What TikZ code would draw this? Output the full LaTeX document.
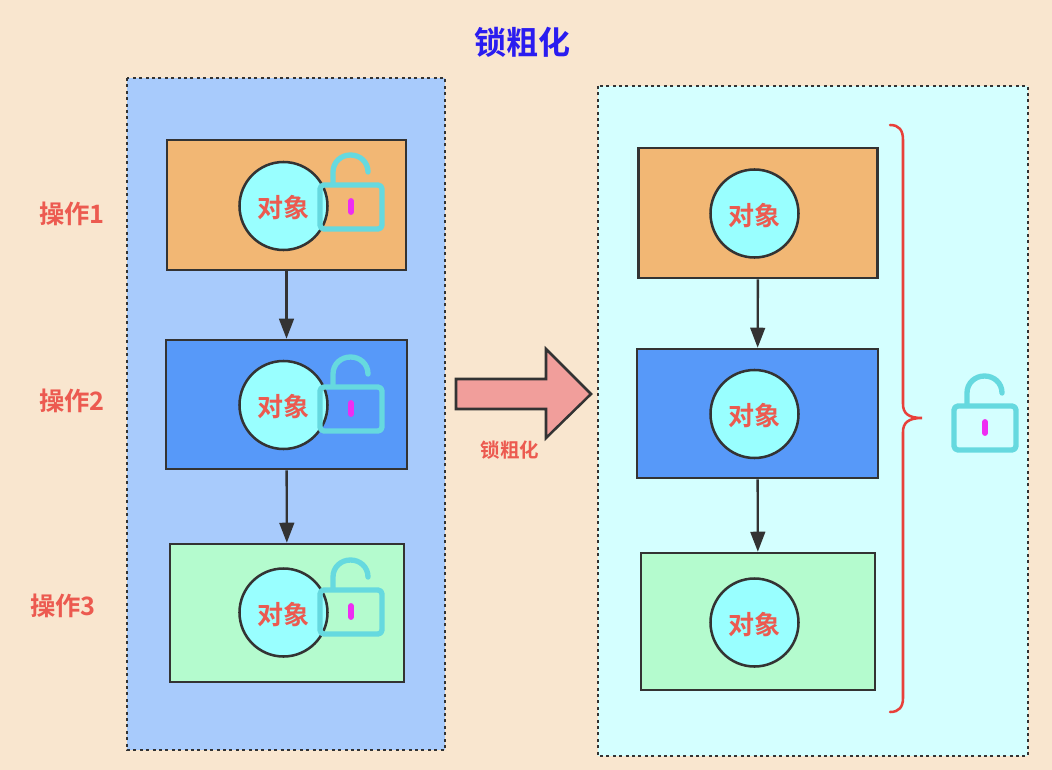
\documentclass[tikz,border=0pt]{standalone}
\usepackage{fontspec}
\setmainfont{Noto Sans CJK SC}[BoldFont={Noto Sans CJK SC Bold}]
\usetikzlibrary{arrows.meta}
\definecolor{bgc}{HTML}{F9E6CF}
\definecolor{panelL}{HTML}{A8CBFC}
\definecolor{panelR}{HTML}{D4FFFF}
\definecolor{boxA}{HTML}{F2B774}
\definecolor{boxB}{HTML}{5799F9}
\definecolor{boxC}{HTML}{B4FBCE}
\definecolor{circ}{HTML}{99FFFF}
\definecolor{ink}{HTML}{333333}
\definecolor{redtxt}{HTML}{EC5A50}
\definecolor{lockc}{HTML}{66D9DF}
\definecolor{pink}{HTML}{EE2DF2}
\definecolor{bluet}{HTML}{2A1CF0}
\definecolor{bracec}{HTML}{E8403A}
\definecolor{bigarrow}{HTML}{F19E9B}
\tikzset{
  x=0.75pt,y=-0.75pt,
  panel/.style={draw=ink,line width=2.2pt,dash pattern=on 2.2pt off 2.6pt},
  opbox/.style={draw=ink,line width=1.9pt,inner sep=0pt},
  obj/.style={circle,draw=ink,line width=1.9pt,fill=circ,minimum size=66pt,inner sep=0pt,
    text height=20pt,text depth=2.2pt,
    text=redtxt,font=\bfseries\fontsize{19.5pt}{22pt}\selectfont},
  oplabel/.style={text=redtxt,font=\bfseries\fontsize{19pt}{22pt}\selectfont,inner sep=0pt},
  link/.style={draw=ink,line width=1.8pt,-{Triangle[length=15pt,width=11pt]}},
  lockline/.style={draw=lockc,line width=4pt,line cap=round,line join=round},
  lock/.pic={
    \draw[lockline,rounded corners=3pt] (320,185) rectangle (382,229);
    \draw[lockline] (333,183) -- (333,172) .. controls (333,162) and (341,155) .. (350.5,155)
      .. controls (360,155) and (368,162) .. (368,172);
    \draw[draw=pink,line width=4.4pt,line cap=round] (351,201) -- (351,212);
  }
}
\begin{document}
\begin{tikzpicture}
\useasboundingbox (0,0) rectangle (1052,770);
\fill[bgc] (0,0) rectangle (1052,770);
\path[panel,fill=panelL] (127,78) rectangle (445,750);
\path[panel,fill=panelR] (598,86) rectangle (1028,756);

\node[font=\bfseries\fontsize{24pt}{26pt}\selectfont,text=bluet,inner sep=0pt] (title) at (522.5,42) {锁粗化};

% left column
\node[opbox,fill=boxA,minimum width=239*0.75pt,minimum height=130*0.75pt] (la) at (286.5,205) {};
\node[opbox,fill=boxB,minimum width=241*0.75pt,minimum height=129*0.75pt] (lb) at (286.5,404.5) {};
\node[opbox,fill=boxC,minimum width=234*0.75pt,minimum height=138*0.75pt] (lc) at (287,613) {};
\draw[link] (la) -- (lb);
\draw[link] (lb) -- (lc);
\node[obj] (lao) at (283.5,206) {对象};
\node[obj] (lbo) at (283.5,405) {对象};
\node[obj] (lco) at (283.5,612.5) {对象};
\pic at (0,0) {lock};
\pic at (0,202) {lock};
\pic at (0,405) {lock};
\node[oplabel] (op1) at (72,214) {操作1};
\node[oplabel] (op2) at (72,401) {操作2};
\node[oplabel] (op3) at (63,606) {操作3};

% right column
\node[opbox,fill=boxA,minimum width=239*0.75pt,minimum height=130*0.75pt] (ra) at (758,213) {};
\node[opbox,fill=boxB,minimum width=241*0.75pt,minimum height=129*0.75pt] (rb) at (757.5,413.5) {};
\node[opbox,fill=boxC,minimum width=234*0.75pt,minimum height=137*0.75pt] (rc) at (758,621.5) {};
\draw[link] (ra) -- (rb);
\draw[link] (rb) -- (rc);
\node[obj] (rao) at (754.5,213.5) {对象};
\node[obj] (rbo) at (754.5,414) {对象};
\node[obj] (rco) at (754.5,622.5) {对象};

% big arrow
\draw[draw=ink,line width=1.9pt,fill=bigarrow,line join=miter]
  (456,379) -- (546,379) -- (546,349) -- (591,394) -- (546,438) -- (546,409) -- (456,409) -- cycle;
\node[text=redtxt,font=\bfseries\fontsize{14.6pt}{16pt}\selectfont,inner sep=0pt] (mid) at (510,450) {锁粗化};

% brace
\draw[bracec,line width=1.9pt,line cap=round]
  (890,125) .. controls (899,125) and (903,130) .. (903,140)
  -- (903,404) .. controls (903,413) and (908,418) .. (922,418)
  .. controls (908,418) and (903,423) .. (903,432)
  -- (903,698) .. controls (903,707) and (899,712) .. (890,712);
\pic at (634,221) {lock};
\end{tikzpicture}
\end{document}
